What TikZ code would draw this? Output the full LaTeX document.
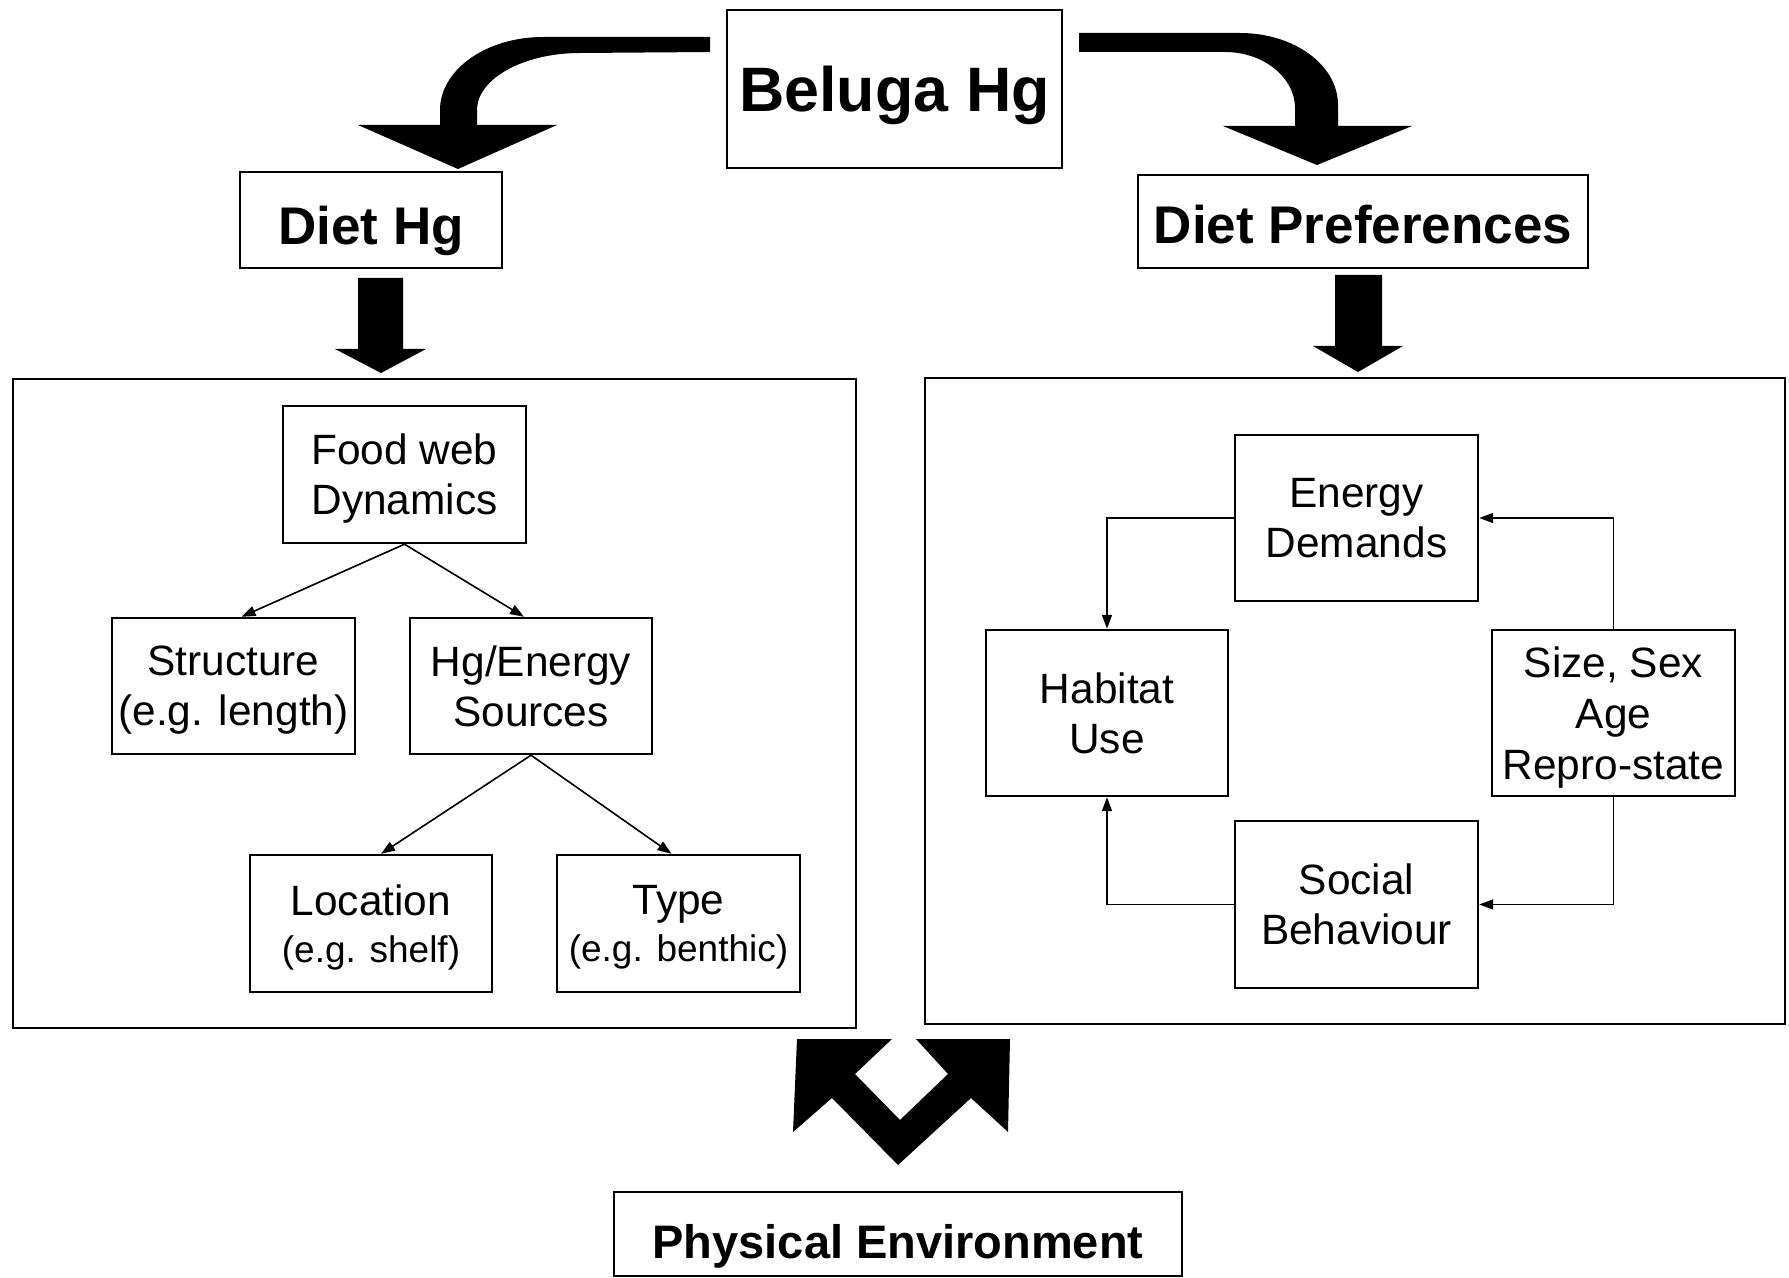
\documentclass[tikz,border=0pt]{standalone}
\usepackage{fontspec}
\setmainfont{Liberation Sans}
\usetikzlibrary{arrows.meta}
\newcommand\mlines[2][25pt]{\vbox{\baselineskip=#1\relax\lineskiplimit=-30pt\halign{\hfil##\hfil\cr#2\crcr}}}
\begin{document}
\begin{tikzpicture}[x=0.5pt,y=-0.5pt,
  frame/.style={draw, line width=1.2pt, inner sep=0pt, text depth=0pt},
  body/.style={frame, font=\fontsize{21.2}{25}\selectfont},
  head/.style={frame, font=\fontsize{26.5}{30}\selectfont\bfseries},
  conn/.style={line width=0.8pt, -{Triangle[length=7pt,width=5pt]}},
  blockarrow/.style={fill=black, draw=none}]
\useasboundingbox (0,0) rectangle (1789,1278);

% top boxes
\node[frame, font=\fontsize{31.4}{36}\selectfont\bfseries, minimum width=167.5pt, minimum height=79pt] (beluga) at (894.5,89) {Beluga Hg};
\node[head, text height=25pt, minimum width=131pt, minimum height=48pt] (diethg) at (371,220) {Diet Hg};
\node[head, text height=22.5pt, minimum width=225pt, minimum height=46.5pt] (dietpref) at (1363,221.5) {Diet Preferences};

% panels
\node[frame, minimum width=421.5pt, minimum height=324.5pt] (leftpanel) at (434.5,703.5) {};
\node[frame, minimum width=430pt, minimum height=323pt] (rightpanel) at (1355,701) {};

% left panel
\node[body, minimum width=121.5pt, minimum height=68.5pt] (food) at (404.5,474.5) {\mlines{Food web\cr Dynamics}};
\node[body, minimum width=121.5pt, minimum height=68pt] (struct) at (233.5,686) {\mlines{Structure\cr (e.g. length)}};
\node[body, minimum width=121pt, minimum height=68pt] (hgen) at (531,686) {\mlines{Hg/Energy\cr Sources}};
\node[body, minimum width=121pt, minimum height=68.5pt] (loc) at (371,923.5) {\mlines[23.5pt]{Location\cr \fontsize{18.5}{22}\selectfont(e.g. shelf)}};
\node[body, minimum width=121.5pt, minimum height=68.5pt] (typ) at (678.5,923.5) {\mlines[23.5pt]{Type\cr \fontsize{18.5}{22}\selectfont(e.g. benthic)}};

\draw[conn] (food.south) -- ([xshift=4pt]struct.north);
\draw[conn] (food.south) -- ([xshift=-3.5pt]hgen.north);
\draw[conn] (hgen.south) -- ([xshift=5pt]loc.north);
\draw[conn] (hgen.south) -- ([xshift=-3.5pt]typ.north);

% right panel
\node[body, minimum width=121.5pt, minimum height=83pt] (energy) at (1356.5,518) {\mlines{Energy\cr Demands}};
\node[body, minimum width=121pt, minimum height=83pt] (habitat) at (1107,713) {\mlines{Habitat\cr Use}};
\node[body, minimum width=121.5pt, minimum height=83pt] (size) at (1613.5,713) {\mlines[25.5pt]{Size, Sex\cr Age\cr Repro-state}};
\node[body, minimum width=121.5pt, minimum height=83.5pt] (social) at (1356.5,904.5) {\mlines{Social\cr Behaviour}};

\draw[conn] (energy.west) -| (habitat.north);
\draw[conn] (size.north) |- (energy.east);
\draw[conn] (size.south) |- (social.east);
\draw[conn] (social.west) -| (habitat.south);

% bottom box
\node[frame, font=\fontsize{23.5}{28}\selectfont\bfseries, text height=24.5pt, minimum width=284pt, minimum height=42pt] (phys) at (898,1234) {Physical Environment};

% curved block arrows
\fill[blockarrow] (710,37) -- (543,37) .. controls (486,37) and (440,70) .. (440,110) -- (440,125)
  -- (358,125) -- (458,169) -- (557,125) -- (477,125) -- (477,110)
  .. controls (477,79) and (523,53) .. (580,53) -- (710,52) -- cycle;
\fill[blockarrow] (1079,33) -- (1240,33) .. controls (1294,33) and (1338,65) .. (1338,105) -- (1338,126)
  -- (1412,126) -- (1317,165) -- (1223,126) -- (1295,126) -- (1295,108)
  .. controls (1295,77) and (1263,52) .. (1225,52) -- (1079,52) -- cycle;

% straight block arrows
\fill[blockarrow] (358,278) -- (403,278) -- (403,349) -- (426,349) -- (381,373) -- (335,349) -- (358,349) -- cycle;
\fill[blockarrow] (1335,275) -- (1382,275) -- (1382,346) -- (1403,346) -- (1358,372) -- (1313,346) -- (1335,346) -- cycle;

% double block arrow
\fill[blockarrow] (797,1039) -- (892,1039) -- (855,1074) -- (900,1120) -- (948,1074) -- (916,1039)
  -- (1010,1039) -- (1008,1132) -- (971,1098) -- (898,1165) -- (832,1098) -- (793,1132) -- cycle;
\end{tikzpicture}
\end{document}
